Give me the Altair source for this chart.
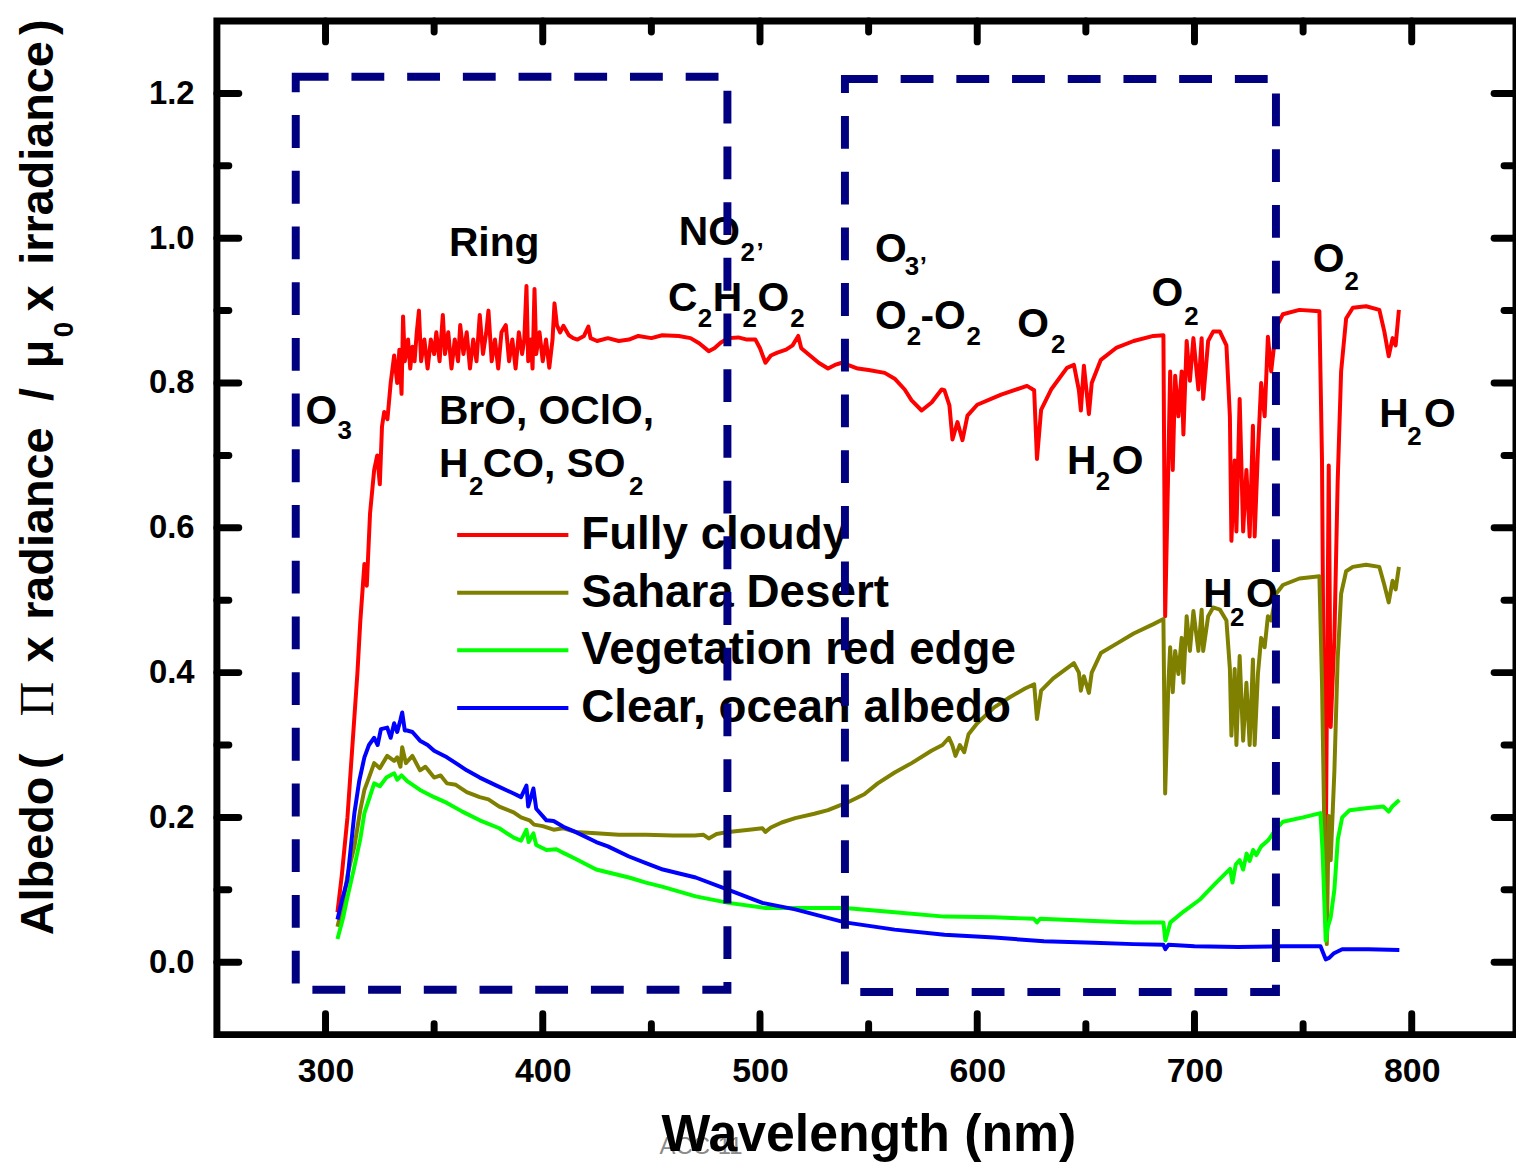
import altair as alt
import pandas as pd

# ---------------- data ----------------
cloudy_nm = [305.5, 307.5, 310.1, 312.4, 314.7, 316.0, 317.9, 319.0, 320.5, 322.4,
             323.8, 325.0, 326.0, 327.0, 328.5, 330.0, 331.6, 333.0, 334.0, 335.0,
             335.7, 336.5, 338.0, 339.0, 340.0, 341.0, 342.0, 343.0, 344.0, 345.5,
             347.0, 348.5, 350.0, 351.0, 352.5, 354.0, 355.0, 356.5, 358.0, 359.5,
             361.0, 362.0, 363.5, 365.0, 366.5, 368.0, 369.5, 371.0, 372.5, 374.0,
             375.0, 376.5, 378.0, 379.5, 381.0, 383.0, 384.5, 386.0, 387.5, 389.0,
             390.5, 391.5, 392.5, 393.3, 394.5, 395.3, 396.2, 397.0, 398.5, 400.0,
             401.5, 403.0, 404.5, 405.4, 406.5, 408.0, 409.5, 412.0, 414.0, 416.0,
             419.0, 421.0, 422.0, 425.0, 430.0, 435.0, 439.7, 444.0, 450.0, 455.0,
             462.6, 468.0, 472.0, 476.4, 479.0, 482.0, 485.5, 490.0, 494.0, 497.9,
             500.0, 502.5, 505.0, 508.0, 512.0, 515.0, 517.6, 519.0, 523.0, 527.0,
             531.3, 534.5, 537.7, 545.0, 550.0, 557.4, 562.0, 566.6, 569.8, 574.4,
             579.0, 583.6, 584.9, 587.2, 588.6, 590.9, 593.2, 595.5, 600.0, 611.0,
             622.9, 626.2, 627.5, 629.4, 634.0, 641.3, 644.5, 646.8, 647.7, 649.1,
             651.4, 652.7, 656.9, 664.2, 672.0, 681.1, 685.7, 686.5, 688.0, 688.8,
             690.0, 691.1, 692.6, 694.1, 694.9, 696.4, 697.9, 699.5, 701.8, 703.3,
             704.0, 706.3, 708.6, 711.7, 714.7, 716.3, 717.0, 718.5, 719.3, 720.8,
             722.4, 723.9, 725.4, 726.9, 727.7, 729.2, 730.7, 732.3, 733.8, 735.3,
             737.6, 740.7, 748.3, 757.5, 758.7, 760.2, 761.8, 762.7, 764.4, 765.9,
             767.5, 769.8, 772.9, 779.0, 785.1, 787.4, 789.4, 791.2, 792.6, 794.1]
cloudy_alb = [0.069, 0.12, 0.20, 0.30, 0.40, 0.47, 0.55, 0.52, 0.62, 0.68,
              0.70, 0.66, 0.74, 0.76, 0.75, 0.80, 0.838, 0.80, 0.846, 0.785,
              0.892, 0.83, 0.86, 0.82, 0.85, 0.83, 0.87, 0.90, 0.83, 0.86,
              0.82, 0.86, 0.84, 0.87, 0.83, 0.894, 0.84, 0.87, 0.82, 0.86,
              0.83, 0.88, 0.84, 0.87, 0.82, 0.86, 0.83, 0.894, 0.84, 0.87,
              0.90, 0.83, 0.86, 0.82, 0.87, 0.88, 0.83, 0.86, 0.82, 0.87,
              0.84, 0.86, 0.934, 0.83, 0.86, 0.82, 0.93, 0.84, 0.87, 0.83,
              0.86, 0.821, 0.86, 0.91, 0.88, 0.87, 0.879, 0.866, 0.862, 0.86,
              0.865, 0.878, 0.862, 0.858, 0.862, 0.858, 0.86, 0.865, 0.862, 0.866,
              0.865, 0.862, 0.855, 0.844, 0.848, 0.856, 0.862, 0.863, 0.86, 0.86,
              0.848, 0.828, 0.838, 0.842, 0.846, 0.852, 0.865, 0.848, 0.838, 0.828,
              0.82, 0.825, 0.828, 0.82, 0.818, 0.814, 0.806, 0.791, 0.776, 0.762,
              0.773, 0.791, 0.79, 0.769, 0.722, 0.746, 0.721, 0.755, 0.77, 0.784,
              0.796, 0.79, 0.695, 0.763, 0.791, 0.821, 0.825, 0.79, 0.762, 0.824,
              0.757, 0.80, 0.832, 0.849, 0.858, 0.865, 0.866, 0.478, 0.693, 0.816,
              0.68, 0.81, 0.754, 0.816, 0.729, 0.858, 0.803, 0.862, 0.791, 0.862,
              0.778, 0.858, 0.871, 0.871, 0.852, 0.754, 0.582, 0.693, 0.595, 0.778,
              0.595, 0.68, 0.588, 0.741, 0.588, 0.705, 0.80, 0.754, 0.864, 0.816,
              0.877, 0.895, 0.901, 0.899, 0.693, 0.06, 0.686, 0.325, 0.448, 0.662,
              0.816, 0.889, 0.904, 0.906, 0.901, 0.871, 0.837, 0.862, 0.852, 0.901]

sahara_nm = [305.5, 308.0, 310.1, 313.3, 316.0, 317.9, 320.0, 322.4, 325.0, 328.4,
             331.6, 333.0, 334.5, 335.3, 337.0, 340.0, 343.5, 346.0, 350.0, 353.0,
             355.9, 360.0, 365.0, 371.0, 375.0, 380.0, 386.6, 390.0, 393.9, 396.0,
             400.0, 405.0, 409.5, 415.0, 424.6, 435.0, 447.5, 460.0, 470.0, 474.0,
             476.4, 480.0, 485.5, 495.0, 501.1, 502.5, 505.0, 510.0, 516.2, 525.0,
             531.3, 540.5, 548.0, 554.2, 562.0, 569.8, 578.9, 584.0, 587.0, 588.5,
             590.0, 592.0, 594.0, 596.0, 600.0, 607.8, 615.0, 622.0, 626.2, 627.5,
             629.4, 635.0, 644.5, 646.8, 647.7, 649.1, 651.4, 652.7, 656.9, 664.2,
             672.0, 681.1, 685.7, 686.5, 688.0, 688.8, 690.0, 691.1, 692.6, 694.1,
             694.9, 696.4, 697.9, 699.5, 701.8, 703.3, 704.0, 706.3, 708.6, 711.7,
             714.7, 716.3, 717.0, 718.5, 719.3, 720.8, 722.4, 723.9, 725.4, 726.9,
             727.7, 729.2, 730.7, 732.3, 733.8, 735.3, 737.6, 740.7, 748.3, 757.5,
             758.7, 760.0, 760.9, 761.8, 762.7, 764.4, 765.9, 767.5, 769.8, 772.9,
             779.0, 785.1, 787.4, 789.4, 791.2, 792.6, 794.1]
sahara_alb = [0.049, 0.08, 0.12, 0.16, 0.21, 0.238, 0.255, 0.275, 0.268, 0.285,
              0.278, 0.283, 0.27, 0.297, 0.275, 0.285, 0.265, 0.27, 0.255, 0.258,
              0.247, 0.245, 0.235, 0.228, 0.225, 0.215, 0.207, 0.20, 0.196, 0.19,
              0.188, 0.183, 0.185, 0.18, 0.178, 0.176, 0.176, 0.175, 0.175, 0.176,
              0.171, 0.177, 0.18, 0.183, 0.185, 0.18, 0.186, 0.193, 0.199, 0.205,
              0.21, 0.221, 0.232, 0.247, 0.262, 0.275, 0.292, 0.30, 0.31, 0.30,
              0.285, 0.30, 0.29, 0.315, 0.33, 0.352, 0.366, 0.378, 0.384, 0.336,
              0.375, 0.392, 0.413, 0.40, 0.375, 0.395, 0.372, 0.40, 0.427, 0.44,
              0.454, 0.467, 0.474, 0.233, 0.386, 0.435, 0.373, 0.43, 0.398, 0.448,
              0.386, 0.478, 0.43, 0.485, 0.43, 0.487, 0.43, 0.478, 0.49, 0.487,
              0.472, 0.405, 0.313, 0.405, 0.30, 0.423, 0.306, 0.386, 0.30, 0.418,
              0.30, 0.398, 0.448, 0.435, 0.478, 0.472, 0.509, 0.521, 0.53, 0.533,
              0.386, 0.141, 0.025, 0.202, 0.141, 0.264, 0.418, 0.509, 0.54, 0.546,
              0.549, 0.546, 0.521, 0.497, 0.527, 0.515, 0.546]

veg_nm = [305.5, 308.0, 310.1, 313.3, 316.0, 317.9, 320.0, 322.4, 325.0, 328.0,
          331.6, 333.0, 335.0, 337.6, 343.5, 350.0, 355.9, 363.0, 371.0, 380.0,
          386.6, 390.0, 392.5, 393.5, 395.7, 397.0, 401.7, 406.3, 409.5, 415.0,
          424.6, 439.7, 447.5, 455.3, 470.4, 485.5, 502.5, 520.0, 539.1, 550.0,
          562.0, 584.9, 607.8, 626.0, 627.5, 629.0, 653.6, 672.0, 685.7, 686.6,
          688.9, 695.0, 702.7, 710.0, 716.4, 717.5, 719.0, 720.8, 722.4, 724.0,
          725.4, 727.0, 728.5, 730.7, 733.8, 737.6, 740.7, 750.0, 758.0, 759.0,
          760.4, 761.5, 762.7, 764.4, 766.0, 768.0, 771.4, 780.0, 787.0, 789.4,
          791.0, 794.3]
veg_alb = [0.032, 0.06, 0.09, 0.132, 0.17, 0.206, 0.225, 0.247, 0.243, 0.255,
           0.261, 0.252, 0.258, 0.25, 0.238, 0.228, 0.22, 0.208, 0.196, 0.185,
           0.172, 0.168, 0.183, 0.166, 0.178, 0.162, 0.155, 0.156, 0.151, 0.143,
           0.128, 0.117, 0.11, 0.104, 0.091, 0.082, 0.075, 0.075, 0.075, 0.072,
           0.069, 0.063, 0.062, 0.06, 0.055, 0.06, 0.057, 0.055, 0.055, 0.03,
           0.055, 0.07, 0.087, 0.11, 0.129, 0.11, 0.135, 0.141, 0.128, 0.15,
           0.14, 0.155, 0.148, 0.16, 0.168, 0.184, 0.194, 0.20, 0.206, 0.15,
           0.03, 0.05, 0.062, 0.10, 0.17, 0.20, 0.21, 0.213, 0.215, 0.208,
           0.215, 0.224]

ocean_nm = [305.5, 307.5, 310.1, 313.3, 315.5, 317.9, 320.0, 322.4, 324.0, 325.5,
            328.4, 330.0, 331.6, 333.0, 334.5, 335.3, 336.5, 337.6, 340.0, 343.5,
            347.0, 350.0, 355.9, 360.0, 365.0, 371.0, 378.0, 386.6, 390.0, 392.5,
            393.3, 395.7, 397.0, 401.7, 405.0, 409.5, 415.0, 424.6, 430.0, 439.7,
            447.5, 455.3, 470.4, 485.5, 501.1, 516.2, 539.1, 562.0, 584.9, 607.8,
            630.7, 653.6, 672.0, 685.7, 686.6, 688.0, 700.0, 720.0, 740.0, 758.0,
            760.4, 762.0, 764.0, 768.0, 780.0, 794.3]
ocean_alb = [0.059, 0.085, 0.114, 0.206, 0.25, 0.283, 0.30, 0.31, 0.30, 0.322,
             0.324, 0.31, 0.33, 0.318, 0.335, 0.345, 0.32, 0.32, 0.318, 0.306,
             0.30, 0.292, 0.283, 0.275, 0.265, 0.255, 0.245, 0.233, 0.228, 0.244,
             0.215, 0.24, 0.212, 0.196, 0.195, 0.187, 0.18, 0.166, 0.16, 0.146,
             0.137, 0.128, 0.117, 0.10, 0.082, 0.073, 0.055, 0.045, 0.038, 0.034,
             0.029, 0.027, 0.025, 0.024, 0.018, 0.024, 0.022, 0.021, 0.022, 0.022,
             0.004, 0.006, 0.012, 0.018, 0.018, 0.017]

series_names = ["Fully cloudy", "Sahara Desert", "Vegetation red edge", "Clear, ocean albedo"]
series_colors = ["#FF0000", "#808000", "#00FF00", "#0000FF"]

x_major = [300, 400, 500, 600, 700, 800]
x_minor = [350, 450, 550, 650, 750]
y_major = [0.0, 0.2, 0.4, 0.6, 0.8, 1.0, 1.2]
y_minor = [0.1, 0.3, 0.5, 0.7, 0.9, 1.1]

# dashed spectral windows
box_nm_start = [286.3, 539.1]
box_nm_end = [485.0, 737.5]
box_alb_low = [-0.038, -0.041]
box_alb_high = [1.223, 1.220]

# annotation labels: main glyphs and subscripts (left edge nm, baseline albedo)
label_text = ["O", "Ring", "NO", "C", "H", "O", "BrO, OClO,", "H", "CO, SO",
              "O", "O", "-O", "O", "O", "O", "H", "O", "H", "O", "H", "O"]
label_nm = [290.8, 356.8, 462.6, 457.6, 478.2, 498.8, 352.2, 352.2, 372.4,
            552.9, 552.9, 573.9, 618.4, 680.2, 754.4, 785.1, 805.7, 641.3, 661.9, 704.0, 723.7]
label_alb = [0.743, 0.976, 0.990, 0.899, 0.899, 0.899, 0.743, 0.670, 0.670,
             0.967, 0.875, 0.875, 0.864, 0.906, 0.954, 0.739, 0.739, 0.674, 0.674, 0.490, 0.490]
sub_text = ["3", "2", "\u2019", "2", "2", "2", "2", "2", "3", "\u2019", "2", "2",
            "2", "2", "2", "2", "2", "2"]
sub_nm = [305.5, 491.0, 498.4, 471.3, 491.9, 513.9, 366.0, 439.7, 566.6, 573.5, 567.5, 595.0,
          634.0, 695.3, 769.1, 797.9, 654.6, 716.4]
sub_alb = [0.722, 0.969, 0.969, 0.877, 0.877, 0.877, 0.645, 0.645, 0.949, 0.949, 0.853, 0.853,
           0.842, 0.880, 0.928, 0.715, 0.652, 0.465]

# ---------------- layout ----------------
W, H = 1306, 1019
FONT = "Liberation Sans"
XDOM = [250, 848]
YDOM = [-0.1, 1.3]
one = pd.DataFrame({"a": [0]})

layers = []

# faint watermark under the x title
layers.append(alt.Chart(one).mark_text(text="ACC-11", align="left", baseline="alphabetic",
                                       font=FONT, fontSize=24, color="#8a8a8a")
              .encode(x=alt.value(445), y=alt.value(1139)))

# spectra
frames = [(cloudy_nm, cloudy_alb), (sahara_nm, sahara_alb), (veg_nm, veg_alb), (ocean_nm, ocean_alb)]
for i, (nm, alb) in enumerate(frames):
    df = pd.DataFrame({"nm": nm, "alb": alb})
    if i == 0:
        xenc = alt.X("nm:Q", scale=alt.Scale(domain=XDOM, nice=False, zero=False),
                     axis=alt.Axis(values=x_major, format="d", ticks=False, tickSize=0, domain=False,
                                   grid=False, labelFont=FONT, labelFontSize=34, labelFontWeight="bold",
                                   labelColor="black", labelPadding=20,
                                   title="Wavelength (nm)", titleFont=FONT, titleFontSize=52,
                                   titleFontWeight="bold", titleColor="black", titleX=655, titleY=116,
                                   titleBaseline="alphabetic", titleAlign="center", zindex=1))
        yenc = alt.Y("alb:Q", scale=alt.Scale(domain=YDOM, nice=False, zero=False),
                     axis=alt.Axis(values=y_major, format=".1f", ticks=False, tickSize=0, domain=False,
                                   grid=False, labelFont=FONT, labelFontSize=33, labelFontWeight="bold",
                                   labelColor="black", labelPadding=23, title=None, titleOpacity=0,
                                   zindex=1))
    else:
        xenc, yenc = alt.X("nm:Q"), alt.Y("alb:Q")
    layers.append(alt.Chart(df).mark_line(color=series_colors[i], strokeWidth=4,
                                          strokeJoin="round").encode(x=xenc, y=yenc))

# annotations
ann = pd.DataFrame({"t": label_text, "nm": label_nm, "alb": label_alb})
layers.append(alt.Chart(ann).mark_text(align="left", baseline="alphabetic", font=FONT, fontSize=41,
                                       fontWeight="bold", color="black")
              .encode(x="nm:Q", y="alb:Q", text="t:N"))
subs = pd.DataFrame({"t": sub_text, "nm": sub_nm, "alb": sub_alb})
layers.append(alt.Chart(subs).mark_text(align="left", baseline="alphabetic", font=FONT, fontSize=26,
                                        fontWeight="bold", color="black")
              .encode(x="nm:Q", y="alb:Q", text="t:N"))

# in-plot legend
leg = pd.DataFrame({"name": series_names, "row": list(range(len(series_names)))})
leg["alb"] = 0.590 - leg["row"] * 0.0796
leg["nm"] = 360.6
leg["nm_end"] = 411.8
leg["nm_text"] = 417.7
color_scale = alt.Scale(domain=series_names, range=series_colors)
layers.append(alt.Chart(leg).mark_rule(strokeWidth=4)
              .encode(x="nm:Q", x2="nm_end", y="alb:Q",
                      color=alt.Color("name:N", scale=color_scale, legend=None)))
layers.append(alt.Chart(leg).mark_text(align="left", baseline="middle", font=FONT, fontSize=46,
                                       fontWeight="bold", color="black")
              .encode(x=alt.X("nm_text:Q"), y="alb:Q", text="name:N"))

# dashed boxes
boxes = pd.DataFrame({"nm": box_nm_start, "nm_end": box_nm_end,
                      "alb": box_alb_low, "alb_end": box_alb_high})
layers.append(alt.Chart(boxes).mark_rect(fillOpacity=0, stroke="#000080", strokeWidth=8,
                                         strokeDash=[33, 23])
              .encode(x="nm:Q", x2="nm_end", y="alb:Q", y2="alb_end"))

# inward ticks on all four sides
tick_style = dict(color="black", strokeWidth=7, strokeCap="round")
for vals, length in ((x_major, 21), (x_minor, 11)):
    d = pd.DataFrame({"nm": vals})
    layers.append(alt.Chart(d).mark_rule(**tick_style)
                  .encode(x="nm:Q", y=alt.value(H), y2=alt.value(H - length)))
    layers.append(alt.Chart(d).mark_rule(**tick_style)
                  .encode(x="nm:Q", y=alt.value(0), y2=alt.value(length)))
for vals, length in ((y_major, 22), (y_minor, 12)):
    d = pd.DataFrame({"alb": vals})
    layers.append(alt.Chart(d).mark_rule(**tick_style)
                  .encode(y="alb:Q", x=alt.value(0), x2=alt.value(length)))
    layers.append(alt.Chart(d).mark_rule(**tick_style)
                  .encode(y="alb:Q", x=alt.value(W), x2=alt.value(W - length)))

# rotated y-axis title, piece by piece (mixed fonts, subscript)
title_words = [("Albedo", 919), ("(", 752), ("x", 645), ("radiance", 602), ("/", 382),
               ("\u03bc", 349), ("x", 292), ("irradiance", 245), (")", 14)]
for word, ypos in title_words:
    layers.append(alt.Chart(one).mark_text(text=word, angle=270, align="left", baseline="alphabetic",
                                           font=FONT, fontSize=47, fontWeight="bold", color="black")
                  .encode(x=alt.value(-165), y=alt.value(ypos)))
layers.append(alt.Chart(one).mark_text(text="\u03a0", angle=270, align="left", baseline="alphabetic",
                                       font="Liberation Serif", fontSize=48, color="black")
              .encode(x=alt.value(-165), y=alt.value(699)))
layers.append(alt.Chart(one).mark_text(text="0", angle=270, align="left", baseline="alphabetic",
                                       font=FONT, fontSize=28, fontWeight="bold", color="black")
              .encode(x=alt.value(-145), y=alt.value(318)))

chart = (alt.layer(*layers)
         .properties(width=W, height=H, autosize=alt.AutoSizeParams(type="none"),
                     padding={"left": 210, "top": 10, "right": 0, "bottom": 128},
                     background="white")
         .configure(font=FONT)
         .configure_view(stroke="black", strokeWidth=7))

chart.save("out.html", embed_options={"renderer": "svg", "actions": False})
